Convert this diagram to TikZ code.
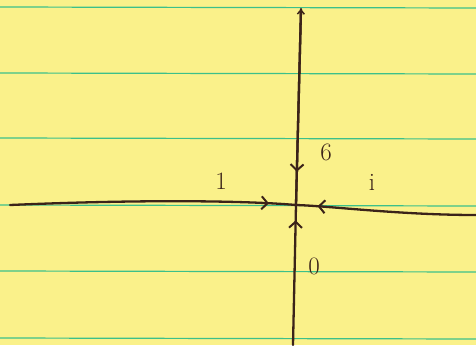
\documentclass[tikz,border=0pt]{standalone}
\usetikzlibrary{arrows.meta,decorations.markings}
\definecolor{paper}{HTML}{FAF18A}
\definecolor{rule}{HTML}{3CC08A}
\definecolor{ink}{HTML}{3B2319}
\tikzset{
  ruleline/.style={rule, line width=1.2pt},
  axis/.style={ink, line width=2.3pt, line cap=round},
  midarrow/.style={postaction={decorate}, decoration={markings,
     mark=at position #1 with {\arrow{Straight Barb[length=6pt,width=13pt,line width=2pt]}}}},
  lbl/.style={ink, font=\fontsize{25}{25}\selectfont, inner sep=0pt}
}
\begin{document}
\begin{tikzpicture}[x=1pt,y=-1pt]
\fill[paper] (0,0) rectangle (476,345);
\useasboundingbox (0,0) rectangle (476,345);
\foreach \yy in {7,73,138,205,271,338} \draw[ruleline] (0,\yy) -- (476,\yy+1);
\coordinate (c) at (296,205);
\coordinate (top) at (301,9);
\coordinate (bot) at (293,345);
\coordinate (left) at (10,205);
\coordinate (right) at (476,215);
\draw[axis, midarrow=0.905] (left) .. controls (150,199) and (250,201) .. (c);
\draw[axis, midarrow=0.88] (right) .. controls (400,215) and (330,206) .. (c);
\draw[axis, midarrow=0.83] (top) -- (c);
\draw[axis, midarrow=0.89] (bot) -- (c);
\draw[axis, -{Straight Barb[length=4pt,width=7pt,line width=1.5pt]}] (c) -- (top);
\node[lbl] (l1) at (221,181) {1};
\node[lbl] (li) at (372,182) {i};
\node[lbl] (l6) at (326,152) {6};
\node[lbl] (l0) at (314,266) {0};
\end{tikzpicture}
\end{document}
